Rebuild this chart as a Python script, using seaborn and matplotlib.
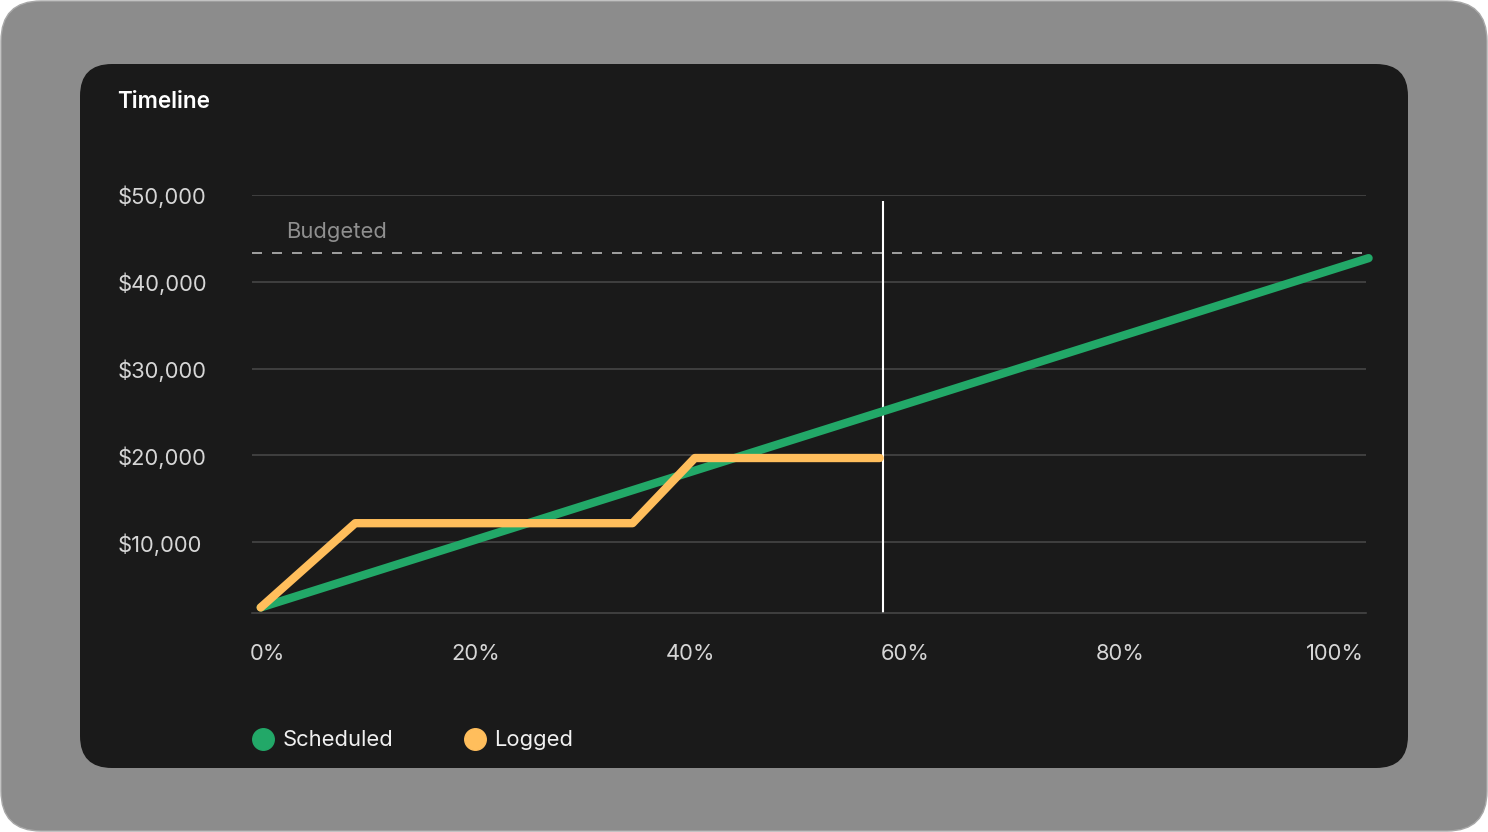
import numpy as np
import pandas as pd
import seaborn as sns
import matplotlib.pyplot as plt
from matplotlib.patches import FancyBboxPatch
from matplotlib.lines import Line2D
from matplotlib.ticker import FuncFormatter
from matplotlib.transforms import ScaledTranslation

sns.set_theme(style='dark')
plt.rcParams['font.family'] = ['Inter', 'DejaVu Sans']
plt.rcParams['lines.scale_dashes'] = False

# data
series_names = ['Scheduled', 'Logged']
series_colors = ['#22a868', '#ffbe5c']
scheduled_x = [0, 103.1]
scheduled_y = [2500, 42700]
logged_x = [0, 8.8, 34.6, 40.4, 57.6]
logged_y = [2500, 12200, 12200, 19700, 19700]
budget_value = 43300
today_x = 57.9
today_top = 49300
y_ticks = [10000, 20000, 30000, 40000, 50000]
x_ticks = [0, 20, 40, 60, 80, 100]

W, H = 1488, 832
FS = 15.8
fig = plt.figure(figsize=(W / 100, H / 100), dpi=100, facecolor='white')

# background card
bg = fig.add_axes([0, 0, 1, 1])
bg.set_xlim(0, W)
bg.set_ylim(H, 0)
bg.axis('off')
bg.add_patch(FancyBboxPatch((1, 1), W - 2, H - 2, boxstyle='round,pad=0,rounding_size=40',
                            fc='#8c8c8c', ec='#a8a8a8', lw=1))
bg.add_patch(FancyBboxPatch((80, 64), 1328, 704, boxstyle='round,pad=0,rounding_size=32',
                            fc='#1a1a1a', ec='none'))

ax = fig.add_axes([252 / W, 1 - 612.7 / H, (1366 - 252) / W, (612.7 - 194.7) / H])
ax.patch.set_alpha(0)

df = pd.DataFrame({
    'x': scheduled_x + logged_x,
    'y': scheduled_y + logged_y,
    'series': ['Scheduled'] * len(scheduled_x) + ['Logged'] * len(logged_x),
})

sns.lineplot(data=df, x='x', y='y', hue='series', hue_order=series_names,
             palette=dict(zip(series_names, series_colors)), sort=False, estimator=None,
             lw=6, legend=False, ax=ax, solid_capstyle='round', solid_joinstyle='round', zorder=3)
for ln in ax.lines:
    ln.set_clip_on(False)

ax.set_xlim(-0.81, 102.86)
ax.set_ylim(1900, 50000)

# budget + today
ax.axhline(budget_value, color='#c4c4c4', lw=1.1, ls=(0, (7.2, 7.2)), zorder=2)
ax.annotate('Budgeted', xy=(0, budget_value), xycoords=('axes fraction', 'data'),
            xytext=(24.5, 15), textcoords='offset points', va='center', ha='left',
            color='#8f8f8f', fontsize=FS)
ax.vlines(today_x, 1900, today_top, color='white', lw=1.5, zorder=2)

ax.set_yticks(y_ticks)
ax.set_xticks(x_ticks)
ax.yaxis.set_major_formatter(FuncFormatter(lambda v, _: f'${v:,.0f}'))
ax.xaxis.set_major_formatter(FuncFormatter(lambda v, _: f'{v:.0f}%'))
ax.grid(axis='y', color='#4a4a4a', lw=1.1)
ax.grid(axis='x', visible=False)
ax.set_axisbelow(True)
ax.set_xlabel('')
ax.set_ylabel('')

for side in ['top', 'left', 'right']:
    ax.spines[side].set_visible(False)
ax.spines['bottom'].set_color('#4a4a4a')
ax.spines['bottom'].set_linewidth(1.1)

ax.tick_params(axis='y', length=0, pad=96.5, labelsize=FS, labelcolor='#d6d6d6')
ax.tick_params(axis='x', length=0, pad=22.5, labelsize=FS, labelcolor='#d6d6d6')
for t in ax.get_yticklabels():
    t.set_ha('left')
# first x label sits flush with the plot edge in the original
first = ax.xaxis.get_major_ticks()[0].label1
first.set_transform(first.get_transform() + ScaledTranslation(0.07, 0, fig.dpi_scale_trans))

fig.text(117.5 / W, 1 - 101.5 / H, 'Timeline', fontsize=16.2, fontweight='semibold',
         color='white', va='center')

handles = [Line2D([], [], marker='o', ls='', ms=15.5, mfc=c, mec=c) for c in series_colors]
fig.legend(handles, series_names, loc='center left', bbox_to_anchor=(252 / W, 1 - 740.5 / H),
           ncol=2, frameon=False, fontsize=FS, labelcolor='#f0f0f0', handlelength=1.0,
           handletextpad=0.38, columnspacing=3.22, borderpad=0, borderaxespad=0)

plt.savefig('out.png', dpi=100, facecolor=fig.get_facecolor())
